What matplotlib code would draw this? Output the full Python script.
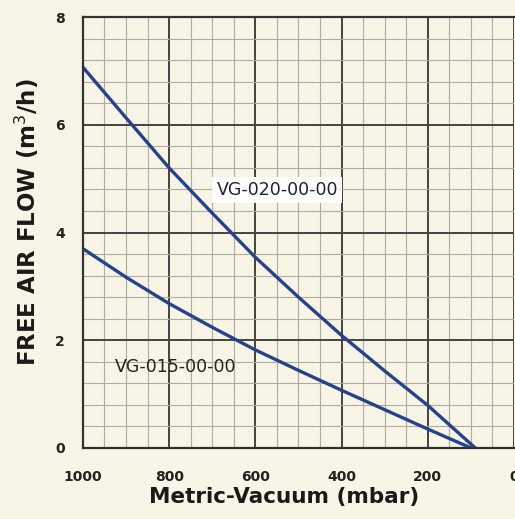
import matplotlib.pyplot as plt
from matplotlib.ticker import MultipleLocator

# vacuum in mbar, flow in m3/h
vacuum = [1000, 900, 800, 700, 600, 500, 400, 300, 200, 90]
flow_020 = [7.07, 6.13, 5.2, 4.36, 3.54, 2.8, 2.09, 1.43, 0.79, 0.0]
vacuum_015 = [1000, 900, 800, 700, 600, 500, 400, 300, 200, 100]
flow_015 = [3.70, 3.17, 2.68, 2.24, 1.82, 1.44, 1.07, 0.71, 0.35, 0.0]

x_ticks = [1000, 800, 600, 400, 200, 0]
y_ticks = [0, 2, 4, 6, 8]

bg = "#f8f5e7"
line_col = "#24438a"

fig = plt.figure(figsize=(5.15, 5.19), dpi=100, facecolor=bg)
ax = fig.add_axes([0.161, 0.137, 0.837, 0.830])
ax.set_facecolor(bg)

ax.plot(vacuum, flow_020, color=line_col, lw=2.4, solid_capstyle="round")
ax.plot(vacuum_015, flow_015, color=line_col, lw=2.4, solid_capstyle="round")

ax.set_xlim(1000, 0)
ax.set_ylim(0, 8)
ax.set_xticks(x_ticks)
ax.set_yticks(y_ticks)
ax.xaxis.set_minor_locator(MultipleLocator(50))
ax.yaxis.set_minor_locator(MultipleLocator(0.4))
ax.grid(which="major", color="#45443c", lw=1.4)
ax.grid(which="minor", color="#aeac9f", lw=0.8)
ax.set_axisbelow(True)
ax.tick_params(which="both", length=0)
ax.tick_params(axis="x", pad=16)
ax.tick_params(axis="y", pad=13)
for lab in ax.get_xticklabels() + ax.get_yticklabels():
    lab.set_fontweight("bold")
    lab.set_fontsize(10)
    lab.set_color("#222222")

for side in ["left", "bottom", "top"]:
    ax.spines[side].set_color("#333333")
    ax.spines[side].set_linewidth(1.6)
ax.spines["right"].set_visible(False)

ax.set_xlabel("Metric-Vacuum (mbar)", fontsize=15.5, fontweight="bold",
              color="#1a1a1a")
ax.xaxis.set_label_coords(0.466, -0.09)
ax.set_ylabel("FREE AIR FLOW (m$^3$/h)", fontsize=16.5, fontweight="bold",
              color="#1a1a1a")
ax.yaxis.set_label_coords(-0.098, 0.524)

ax.text(549, 4.79, "VG-020-00-00", fontsize=12.5, ha="center", va="center",
        color="#222222", bbox=dict(facecolor="white", edgecolor="none", pad=3))
ax.text(784, 1.5, "VG-015-00-00", fontsize=12.5, ha="center", va="center",
        color="#222222")

fig.savefig("out.png", dpi=100, facecolor=bg)
